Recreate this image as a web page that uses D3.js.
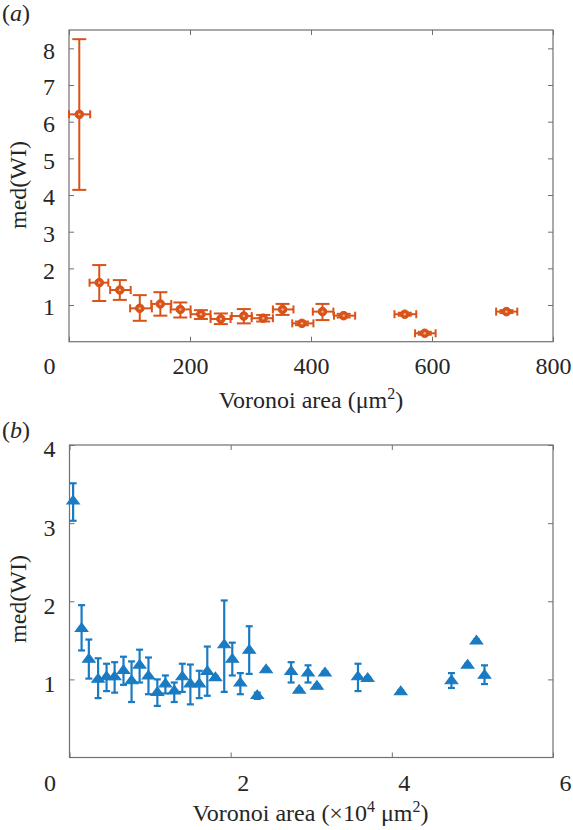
<!DOCTYPE html>
<html><head><meta charset="utf-8">
<script src="https://cdn.jsdelivr.net/npm/d3@7"></script>
<style>
body{margin:0;background:#fff}
svg text{font-family:'Liberation Serif','Nimbus Roman','Times New Roman',Times,'DejaVu Serif',serif !important;fill:#262626}
</style>
</head><body>
<svg id="c" width="573" height="830"></svg>
<script>
// ---- Panel (a) data ----
const aX    = [17, 50, 84, 117, 151, 184, 218, 251, 289, 321, 353, 385, 419, 454, 555, 588, 723];
const aXLo  = [0, 34, 68, 101, 136, 168, 201, 234, 269, 302, 337, 369, 403, 438, 538, 572, 706];
const aXHi  = [35, 65, 102, 137, 169, 201, 234, 267, 302, 337, 371, 404, 437, 473, 574, 606, 741];
const aY    = [6.2, 1.61, 1.41, 0.91, 1.03, 0.88, 0.75, 0.62, 0.70, 0.64, 0.88, 0.50, 0.82, 0.71, 0.75, 0.23, 0.82];
const aYLo  = [4.14, 1.11, 1.14, 0.57, 0.71, 0.66, 0.62, 0.48, 0.50, 0.55, 0.73, 0.45, 0.59, 0.66, 0.71, 0.19, 0.78];
const aYHi  = [8.25, 2.09, 1.68, 1.27, 1.35, 1.07, 0.86, 0.77, 0.89, 0.73, 1.03, 0.55, 1.03, 0.76, 0.79, 0.27, 0.86];
const aXTicks = [0, 200, 400, 600, 800];
const aYTicks = [1, 2, 3, 4, 5, 6, 7, 8];

// ---- Panel (b) data (x in units of 10^4 um^2) ----
const bX   = [0.045, 0.15, 0.24, 0.355, 0.46, 0.56, 0.67, 0.77, 0.87, 0.98, 1.09, 1.19, 1.30, 1.40, 1.50, 1.61, 1.71, 1.81, 1.92, 2.02, 2.12, 2.23, 2.33, 2.44, 2.75, 2.85, 2.96, 3.07, 3.17, 3.58, 3.70, 4.11, 4.74, 4.94, 5.05, 5.15];
const bY   = [3.28, 1.65, 1.255, 1.0, 1.03, 1.03, 1.11, 0.98, 1.18, 1.04, 0.83, 0.94, 0.85, 1.03, 0.94, 0.94, 1.10, 1.02, 1.44, 1.255, 0.95, 1.37, 0.79, 1.12, 1.10, 0.86, 1.08, 0.91, 1.08, 1.03, 1.01, 0.84, 0.98, 1.18, 1.49, 1.05];
const bYLo = [3.03, 1.37, 1.01, 0.76, 0.85, 0.83, 0.93, 0.71, 0.96, 0.81, 0.66, 0.82, 0.71, 0.84, 0.68, 0.76, 0.79, 1.00, 0.84, 1.05, 0.81, 1.07, 0.75, 1.10, 0.96, 0.84, 0.96, 0.89, 1.06, 0.85, 0.99, 0.82, 0.89, 1.16, 1.47, 0.94];
const bYHi = [3.51, 1.95, 1.51, 1.27, 1.20, 1.22, 1.29, 1.23, 1.38, 1.28, 1.00, 1.05, 0.96, 1.20, 1.19, 1.11, 1.42, 1.04, 2.01, 1.47, 1.08, 1.68, 0.83, 1.14, 1.22, 0.88, 1.18, 0.93, 1.10, 1.20, 1.03, 0.86, 1.08, 1.20, 1.51, 1.18];
const bXTicks = [0, 2, 4, 6];
const bYTicks = [1, 2, 3, 4];

const orange = "#d95319", blue = "#1a7bc2", axisCol = "#707070";
const FONT = "'Liberation Serif','Nimbus Roman','Times New Roman',Times,'DejaVu Serif',serif";
const svg = d3.select("#c");

function panel(opt) {
  const {L, R, T, B, xDom, yDom, xTicks, yTicks, xLabDx0, xLabDx, xLabY, yLabDy} = opt;
  const x = d3.scaleLinear().domain(xDom).range([L, R]);
  const y = d3.scaleLinear().domain(yDom).range([B, T]);
  const g = svg.append("g");
  const fmt = d3.format("d");
  const gb = g.append("g").attr("transform", `translate(0,${B})`)
    .call(d3.axisBottom(x).tickValues(xTicks).tickFormat(fmt).tickSize(-5).tickSizeOuter(0));
  gb.selectAll(".tick text").attr("y", xLabY).attr("dy", "0.35em")
    .attr("dx", d => d === 0 ? xLabDx0 : xLabDx);
  g.append("g").attr("transform", `translate(0,${T})`)
    .call(d3.axisTop(x).tickValues(xTicks).tickFormat("").tickSize(-5).tickSizeOuter(0));
  const gl = g.append("g").attr("transform", `translate(${L},0)`)
    .call(d3.axisLeft(y).tickValues(yTicks).tickFormat(fmt).tickSize(-5).tickSizeOuter(0));
  gl.selectAll(".tick text").attr("x", -14).attr("y", yLabDy).attr("dy", "0.35em");
  g.append("g").attr("transform", `translate(${R},0)`)
    .call(d3.axisRight(y).tickValues(yTicks).tickFormat("").tickSize(-5).tickSizeOuter(0));
  g.selectAll(".domain").remove();
  g.selectAll("g").attr("font-family", FONT);
  g.selectAll(".tick line").attr("stroke", axisCol).attr("stroke-width", 1);
  g.selectAll(".tick text").attr("font-size", 24).attr("fill", "#262626").attr("font-family", FONT);
  g.append("rect").attr("x", L).attr("y", T).attr("width", R - L).attr("height", B - T)
    .attr("fill", "none").attr("stroke", axisCol).attr("stroke-width", 1.2);
  return {x, y, g};
}

function label(x, y, html, rot) {
  const t = svg.append("text").attr("font-size", 24).attr("font-family", FONT).html(html);
  if (rot) t.attr("transform", `translate(${x},${y}) rotate(-90)`).attr("text-anchor", "middle");
  else t.attr("x", x).attr("y", y);
  return t;
}

// ---------- Panel (a) ----------
const pa = panel({L: 69, R: 553, T: 30, B: 341.7, xDom: [0, 800], yDom: [0, 8.5],
  xTicks: aXTicks, yTicks: aYTicks, xLabDx0: -20, xLabDx: 0, xLabY: 24, yLabDy: 1.5});
{
  const {x, y, g} = pa;
  const idx = d3.range(aX.length);
  const eg = g.append("g").attr("stroke", orange).attr("stroke-width", 2).attr("fill", "none");
  idx.forEach(i => {
    eg.append("line").attr("x1", x(aX[i])).attr("x2", x(aX[i])).attr("y1", y(aYLo[i])).attr("y2", y(aYHi[i]));
    [aYLo[i], aYHi[i]].forEach(v => eg.append("line").attr("x1", x(aX[i]) - 7).attr("x2", x(aX[i]) + 7).attr("y1", y(v)).attr("y2", y(v)));
    eg.append("line").attr("x1", x(aXLo[i])).attr("x2", x(aXHi[i])).attr("y1", y(aY[i])).attr("y2", y(aY[i]));
    [aXLo[i], aXHi[i]].forEach(v => eg.append("line").attr("x1", x(v)).attr("x2", x(v)).attr("y1", y(aY[i]) - 4).attr("y2", y(aY[i]) + 4));
  });
  g.append("g").selectAll("circle").data(idx).join("circle")
    .attr("cx", i => x(aX[i])).attr("cy", i => y(aY[i])).attr("r", 4.3)
    .attr("fill", orange).attr("stroke", orange).attr("stroke-width", 1);
  g.append("g").selectAll("circle").data(idx).join("circle")
    .attr("cx", i => x(aX[i])).attr("cy", i => y(aY[i])).attr("r", 1.2)
    .attr("fill", "#f4b08f");
}
label(2, 21, '(<tspan font-style="italic">a</tspan>)');
label(26, 185, 'med(WI)', true);
label(311, 408, 'Voronoi area (μm<tspan font-size="16" dy="-9">2</tspan><tspan dy="9">)</tspan>').attr("text-anchor", "middle");

// ---------- Panel (b) ----------
const pb = panel({L: 69.5, R: 553, T: 445, B: 757.5, xDom: [0, 6], yDom: [0, 4],
  xTicks: bXTicks, yTicks: bYTicks, xLabDx0: -20, xLabDx: 12, xLabY: 25.5, yLabDy: 3.5});
{
  const {x, y, g} = pb;
  const idx = d3.range(bX.length);
  const eg = g.append("g").attr("stroke", blue).attr("stroke-width", 2.2).attr("fill", "none");
  idx.forEach(i => {
    eg.append("line").attr("x1", x(bX[i])).attr("x2", x(bX[i])).attr("y1", y(bYLo[i])).attr("y2", y(bYHi[i]));
    [bYLo[i], bYHi[i]].forEach(v => eg.append("line").attr("x1", x(bX[i]) - 3.5).attr("x2", x(bX[i]) + 3.5).attr("y1", y(v)).attr("y2", y(v)));
  });
  const tri = d3.symbol().type(d3.symbolTriangle).size(50);
  g.append("g").selectAll("path").data(idx).join("path")
    .attr("transform", i => `translate(${x(bX[i])},${y(bY[i])}) scale(1.15,0.9)`)
    .attr("d", tri).attr("fill", blue).attr("stroke", blue).attr("stroke-width", 1.2);
}
label(2, 438, '(<tspan font-style="italic">b</tspan>)');
label(26, 599, 'med(WI)', true);
label(310.5, 821, 'Voronoi area (×10<tspan font-size="16" dy="-9">4</tspan><tspan dy="9"> μm</tspan><tspan font-size="16" dy="-9">2</tspan><tspan dy="9">)</tspan>').attr("text-anchor", "middle");
</script>
</body></html>
